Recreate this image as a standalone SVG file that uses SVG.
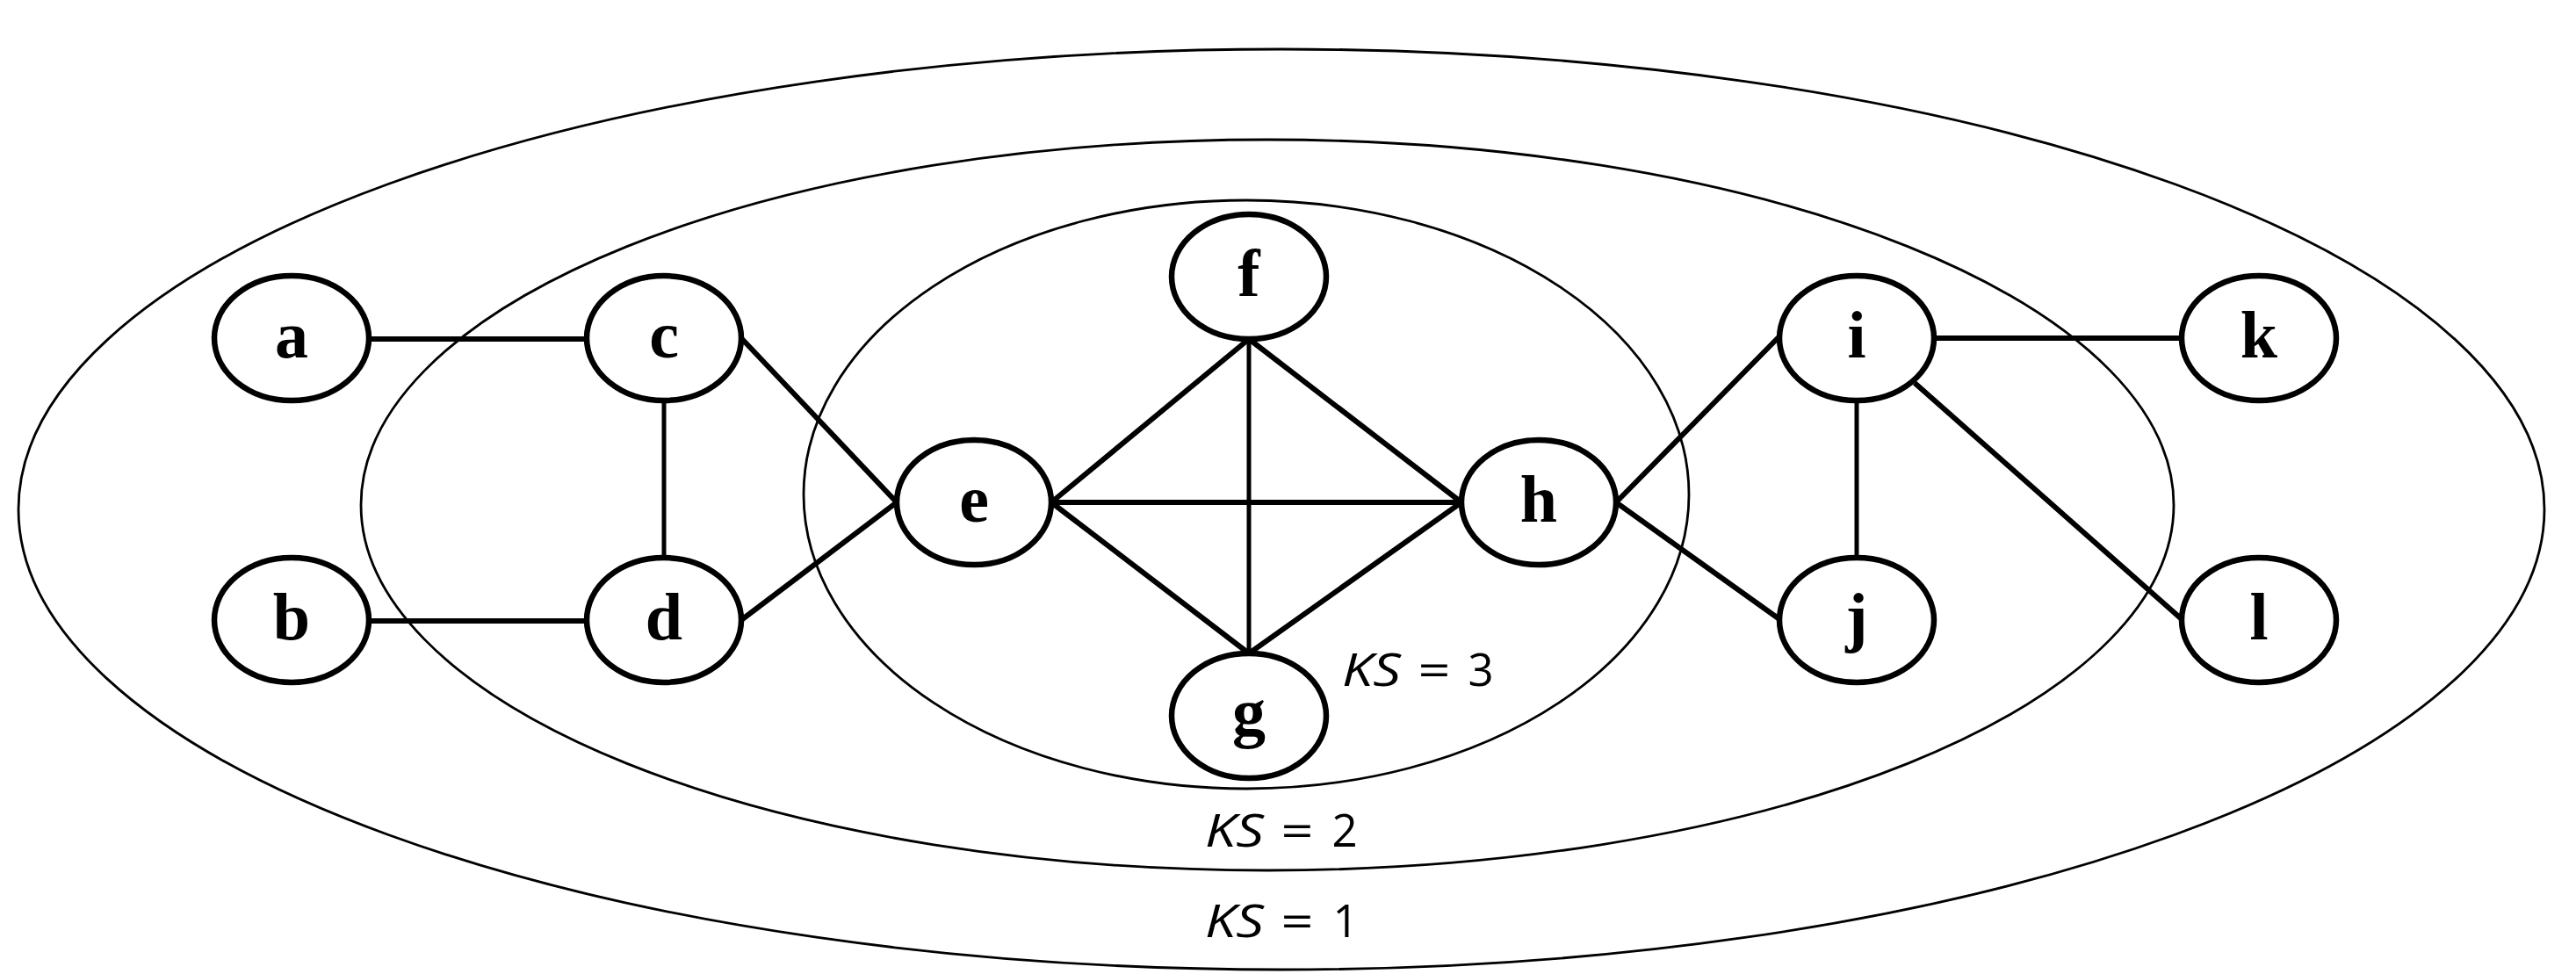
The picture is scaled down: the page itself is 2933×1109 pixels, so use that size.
<svg xmlns="http://www.w3.org/2000/svg" width="2933" height="1109" viewBox="0 0 2933 1109">
<style>
.shell{fill:none;stroke:#000;stroke-width:2.8}
.edge{stroke:#000;stroke-width:6;stroke-linecap:butt}
.thin{stroke-width:5}
.node ellipse{fill:#fff;stroke:#000;stroke-width:6.5}
.node text{font-family:"Liberation Serif","Times New Roman",serif;font-weight:bold;font-size:76px;text-anchor:middle;fill:#000}
.ks text{font-family:"Open Sans","Noto Sans",sans-serif;font-size:51px;fill:#000}
.ks .it{font-style:italic}
.ks .eq,.ks .num{text-anchor:middle}
</style>
<rect width="2933" height="1109" fill="#fff"/>
<g id="shells">
<ellipse class="shell" cx="1459" cy="580" rx="1438" ry="524"/>
<ellipse class="shell" cx="1443" cy="575" rx="1032" ry="416"/>
<ellipse class="shell" cx="1419" cy="563" rx="504" ry="335"/>
</g>
<g id="label-ks3" class="ks">
<text class="it" x="1528" y="781" textLength="67" lengthAdjust="spacingAndGlyphs">KS</text>
<text class="eq" x="1633" y="781" textLength="37" lengthAdjust="spacingAndGlyphs">=</text>
<text class="num" x="1686" y="781">3</text>
</g>
<g id="label-ks2" class="ks">
<text class="it" x="1372" y="964" textLength="67" lengthAdjust="spacingAndGlyphs">KS</text>
<text class="eq" x="1477" y="964" textLength="37" lengthAdjust="spacingAndGlyphs">=</text>
<text class="num" x="1531" y="964">2</text>
</g>
<g id="label-ks1" class="ks">
<text class="it" x="1372" y="1067" textLength="67" lengthAdjust="spacingAndGlyphs">KS</text>
<text class="eq" x="1477" y="1067" textLength="37" lengthAdjust="spacingAndGlyphs">=</text>
<text class="num" x="1532" y="1067">1</text>
</g>
<g id="connectors">
<line class="edge" x1="420" y1="386" x2="668" y2="386"/>
<line class="edge" x1="420" y1="707" x2="668" y2="707"/>
<line class="edge thin" x1="756" y1="456" x2="756" y2="635"/>
<line class="edge" x1="844" y1="385" x2="1021" y2="572"/>
<line class="edge" x1="844" y1="706" x2="1021" y2="572"/>
<line class="edge" x1="1197" y1="572" x2="1422" y2="386"/>
<line class="edge" x1="1197" y1="572" x2="1664" y2="572"/>
<line class="edge" x1="1197" y1="572" x2="1422" y2="744"/>
<line class="edge thin" x1="1422" y1="386" x2="1422" y2="744"/>
<line class="edge" x1="1422" y1="386" x2="1664" y2="572"/>
<line class="edge" x1="1422" y1="744" x2="1664" y2="572"/>
<line class="edge" x1="1840" y1="572" x2="2026" y2="383"/>
<line class="edge" x1="1840" y1="572" x2="2026" y2="705"/>
<line class="edge" x1="2202" y1="385" x2="2484" y2="385"/>
<line class="edge thin" x1="2114" y1="456" x2="2114" y2="635"/>
<line class="edge" x1="2180" y1="436" x2="2484" y2="705"/>
</g>
<g id="node-a" class="node"><ellipse cx="332" cy="385" rx="88" ry="71"/><text x="332" y="407">a</text></g>
<g id="node-b" class="node"><ellipse cx="332" cy="706" rx="88" ry="71"/><text x="332" y="728">b</text></g>
<g id="node-c" class="node"><ellipse cx="756" cy="385" rx="88" ry="71"/><text x="756" y="407">c</text></g>
<g id="node-d" class="node"><ellipse cx="756" cy="706" rx="88" ry="71"/><text x="756" y="728">d</text></g>
<g id="node-e" class="node"><ellipse cx="1109" cy="572" rx="88" ry="71"/><text x="1109" y="594">e</text></g>
<g id="node-f" class="node"><ellipse cx="1422" cy="315" rx="88" ry="71"/><text x="1422" y="337">f</text></g>
<g id="node-g" class="node"><ellipse cx="1422" cy="815" rx="88" ry="71"/><text x="1422" y="837">g</text></g>
<g id="node-h" class="node"><ellipse cx="1752" cy="572" rx="88" ry="71"/><text x="1752" y="594">h</text></g>
<g id="node-i" class="node"><ellipse cx="2114" cy="385" rx="88" ry="71"/><text x="2114" y="407">i</text></g>
<g id="node-j" class="node"><ellipse cx="2114" cy="706" rx="88" ry="71"/><text x="2114" y="728">j</text></g>
<g id="node-k" class="node"><ellipse cx="2572" cy="385" rx="88" ry="71"/><text x="2572" y="407">k</text></g>
<g id="node-l" class="node"><ellipse cx="2572" cy="706" rx="88" ry="71"/><text x="2572" y="728">l</text></g>
</svg>
